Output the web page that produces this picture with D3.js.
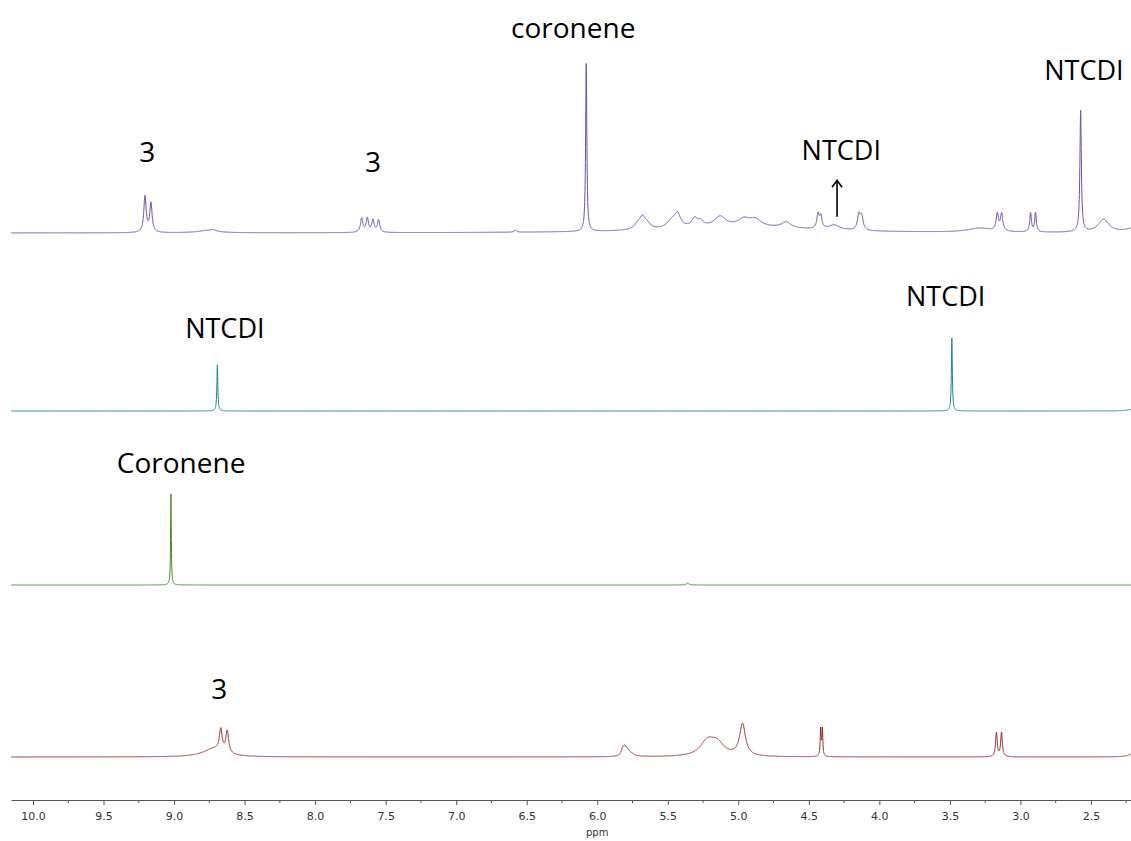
<!DOCTYPE html>
<html>
<head>
<meta charset="utf-8">
<script src="https://cdn.jsdelivr.net/npm/d3@7"></script>
<style>
  html, body { margin: 0; padding: 0; background: #fff; }
  svg { display: block; }
  .lbl { font-family: "Open Sans", Lato, sans-serif; fill: #000; }
  .axis text { font-family: "DejaVu Sans", Verdana, sans-serif; font-size: 11px; fill: #333; }
  .axis path, .axis line { stroke: #555; }
</style>
</head>
<body>
<svg id="chart" width="1131" height="841"></svg>
<script>
// 1H NMR spectra, stacked. Each signal: [shift (ppm), intensity (% of tallest), half-width (ppm)]
const mixturePeaks = [
  [9.206, 21.2, 0.010], [9.164, 17.1, 0.010],
  [8.76, 1.4, 0.08], [8.72, 0.8, 0.02],
  [7.67, 8.2, 0.010], [7.63, 8.2, 0.010], [7.59, 7.1, 0.010], [7.55, 7.1, 0.010],
  [6.58, 1.2, 0.010],
  [6.078, 98.8, 0.005],
  [5.00, 3.5, 0.60],
  [5.71, 3.5, 0.03], [5.68, 5.3, 0.02], [5.65, 3.5, 0.03],
  [5.47, 4.7, 0.04], [5.43, 7.1, 0.025],
  [5.31, 4.7, 0.025], [5.27, 2.9, 0.025],
  [5.13, 5.9, 0.05],
  [4.96, 4.1, 0.05], [4.88, 4.1, 0.05],
  [4.66, 3.5, 0.04],
  [4.435, 8.2, 0.010], [4.415, 7.1, 0.010],
  [4.32, 2.9, 0.05],
  [4.145, 8.8, 0.012], [4.125, 7.6, 0.012],
  [3.29, 2.4, 0.10],
  [3.164, 10.0, 0.010], [3.133, 10.0, 0.010],
  [2.928, 11.2, 0.007], [2.893, 11.2, 0.007],
  [2.573, 71.2, 0.006],
  [2.41, 7.6, 0.045],
  [2.15, 5.9, 0.06]
];
const ntcdiPeaks = [
  [8.693, 27.1, 0.004], [3.486, 42.9, 0.004], [2.17, 3.5, 0.03]
];
const coronenePeaks = [
  [9.022, 53.5, 0.003], [5.36, 1.2, 0.010]
];
const compound3Peaks = [
  [8.72, 4.7, 0.09],
  [8.669, 12.9, 0.012], [8.623, 12.9, 0.012],
  [5.82, 3.5, 0.012], [5.805, 4.1, 0.012], [5.785, 2.9, 0.015], [5.76, 1.5, 0.03],
  [5.22, 8.2, 0.06], [5.15, 7.1, 0.06],
  [4.97, 18.8, 0.025],
  [4.416, 15.9, 0.004], [4.404, 15.9, 0.004],
  [3.170, 14.1, 0.007], [3.134, 14.1, 0.007],
  [2.18, 4.7, 0.03]
];

const ppmTicks = [10.0, 9.5, 9.0, 8.5, 8.0, 7.5, 7.0, 6.5, 6.0, 5.5, 5.0, 4.5, 4.0, 3.5, 3.0, 2.5];
const ppmMinorTicks = [9.75, 9.25, 8.75, 8.25, 7.75, 7.25, 6.75, 6.25, 5.75, 5.25, 4.75, 4.25, 3.75, 3.25, 2.75, 2.25];

// annotations: [text, shift (ppm), height above the trace baseline (% of tallest)]
const mixtureLabels = [["3", 9.19, 42], ["3", 7.59, 36], ["coronene", 6.17, 115], ["NTCDI", 2.55, 90], ["NTCDI", 4.27, 43]];
const ntcdiLabels = [["NTCDI", 8.64, 43], ["NTCDI", 3.53, 62]];
const coroneneLabels = [["Coronene", 8.95, 66]];
const compound3Labels = [["3", 8.68, 34]];
const arrowShift = 4.30;

// ---- layout ----
const svg = d3.select("#chart");
const x = d3.scaleLinear().domain([10.156, 2.216]).range([11, 1131]);
const inten = d3.scaleLinear().domain([0, 100]).range([0, 170]);

const traces = [
  { peaks: mixturePeaks,   labels: mixtureLabels,   base: 233, color: "#6e4fae" },
  { peaks: ntcdiPeaks,     labels: ntcdiLabels,     base: 411, color: "#1f8585" },
  { peaks: coronenePeaks,  labels: coroneneLabels,  base: 585, color: "#4f8a1f" },
  { peaks: compound3Peaks, labels: compound3Labels, base: 757, color: "#962d2d" }
];

function spectrum(peaks) {
  const [hi, lo] = x.domain();
  const grid = d3.range(lo, hi, 0.001).concat(peaks.map(p => p[0])).filter(v => v >= lo && v <= hi);
  grid.sort((a, b) => b - a);
  return grid.map(s => {
    let v = 0;
    for (const [c, h, w] of peaks) { const d = (s - c) / w; v += h / (1 + d * d); }
    return [s, v];
  });
}

traces.forEach(t => {
  const line = d3.line().x(d => x(d[0])).y(d => t.base - inten(d[1]));
  svg.append("path")
    .attr("d", line(spectrum(t.peaks)))
    .attr("fill", "none")
    .attr("stroke", t.color)
    .attr("stroke-width", 1)
    .attr("stroke-linejoin", "round");
  t.labels.forEach(([txt, s, h]) => {
    svg.append("text").attr("class", "lbl")
      .attr("x", x(s)).attr("y", t.base - inten(h))
      .attr("text-anchor", "middle")
      .attr("font-size", txt === "NTCDI" ? 27 : 28)
      .text(txt);
  });
});

// arrow pointing at the NTCDI signal in the mixture
const ax = x(arrowShift);
const aTop = traces[0].base - inten(31), aBot = traces[0].base - inten(9.5);
svg.append("path")
  .attr("d", `M${ax},${aBot}V${aTop}M${ax - 5},${aTop + 7}L${ax},${aTop}L${ax + 5},${aTop + 7}`)
  .attr("fill", "none").attr("stroke", "#000").attr("stroke-width", 1.6);

// ppm axis
const axisY = 800;
const gAxis = svg.append("g").attr("class", "axis").attr("transform", `translate(0,${axisY})`);
gAxis.call(d3.axisBottom(x).tickValues(ppmTicks).tickFormat(d3.format(".1f")).tickSize(5).tickSizeOuter(0));
gAxis.selectAll(".tick text").attr("dy", "1.1em");
gAxis.append("g").selectAll("line").data(ppmMinorTicks).join("line")
  .attr("x1", d => x(d)).attr("x2", d => x(d)).attr("y1", 0).attr("y2", 3)
  .attr("stroke", "#555");
svg.append("text")
  .attr("x", x(6.0)).attr("y", 836)
  .attr("text-anchor", "middle")
  .style("font-family", "'DejaVu Sans', Verdana, sans-serif").style("font-size", "10px").style("fill", "#333")
  .text("ppm");
</script>
</body>
</html>
